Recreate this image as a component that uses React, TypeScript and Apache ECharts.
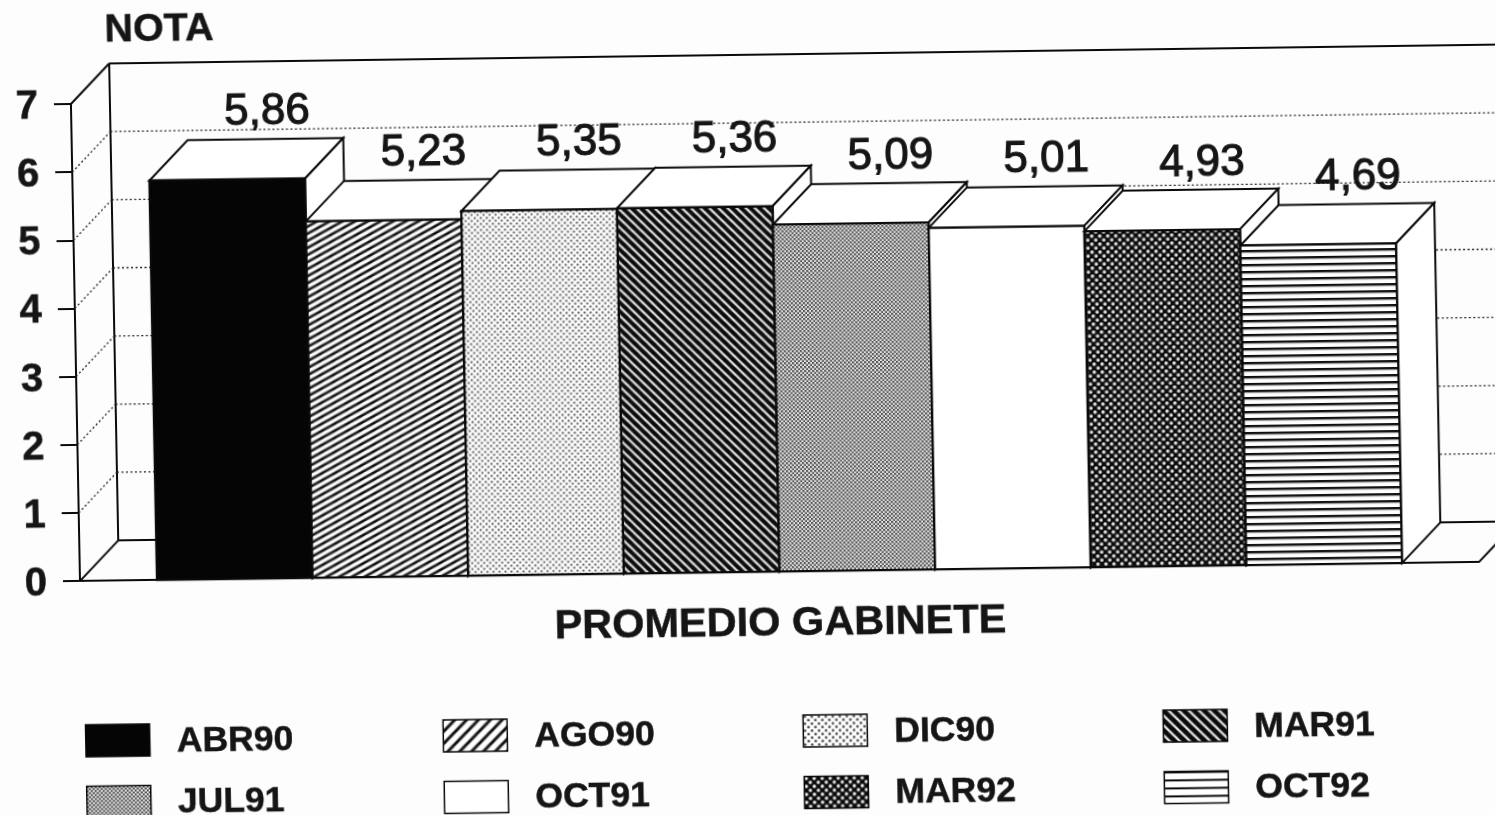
import React, { useEffect, useRef } from "react";
import * as echarts from "echarts";

const categories = ["PROMEDIO GABINETE"];
const seriesNames = ["ABR90", "AGO90", "DIC90", "MAR91", "JUL91", "OCT91", "MAR92", "OCT92"];
const seriesValues = [5.86, 5.23, 5.35, 5.36, 5.09, 5.01, 4.93, 4.69];
const yTicks = [0, 1, 2, 3, 4, 5, 6, 7];
const legendColumns = [
  ["ABR90", "JUL91"],
  ["AGO90", "OCT91"],
  ["DIC90", "MAR92"],
  ["MAR91", "OCT92"],
];
const legendLefts = [82, 439.5, 799.5, 1159.5];

const INK = "#0a0a0a";
const TEXT = "#151515";
const FONT = '"Liberation Sans", Arial, sans-serif';
const DEPTH_X = 39;
const DEPTH_Y = 40;
const CLUSTER = 0.89;

function tile(w: number, h: number, draw: (c: CanvasRenderingContext2D) => void, bg = "#ffffff") {
  const cv = document.createElement("canvas");
  cv.width = w;
  cv.height = h;
  const c = cv.getContext("2d")!;
  c.fillStyle = bg;
  c.fillRect(0, 0, w, h);
  c.fillStyle = INK;
  c.strokeStyle = INK;
  draw(c);
  return { image: cv, repeat: "repeat" };
}
function riseHatch(w: number, h: number, lw: number) {
  return tile(w, h, (c) => {
    c.lineWidth = lw;
    for (let k = -2; k <= 2; k++) {
      c.beginPath();
      c.moveTo(-w, h * (k + 2));
      c.lineTo(2 * w, h * (k - 1));
      c.stroke();
    }
  });
}
function fallHatch(w: number, h: number, lw: number) {
  return tile(w, h, (c) => {
    c.lineWidth = lw;
    for (let k = -2; k <= 2; k++) {
      c.beginPath();
      c.moveTo(-w, h * (k - 1));
      c.lineTo(2 * w, h * (k + 2));
      c.stroke();
    }
  });
}
function dots(p: number, r: number, colour: string, bg: string) {
  return tile(p, p, (c) => {
    c.fillStyle = colour;
    [[p / 4, p / 4], [(3 * p) / 4, (3 * p) / 4]].forEach(([x, y]) => {
      c.beginPath();
      c.arc(x, y, r, 0, Math.PI * 2);
      c.fill();
    });
  }, bg);
}
function stripes(h: number, lw: number) {
  return tile(4, h, (c) => {
    c.fillRect(0, 0, 4, lw);
  });
}

function barFills(): Record<string, any> {
  return {
    ABR90: "#050505",
    AGO90: riseHatch(13, 7, 2.6),
    DIC90: dots(6, 1.05, "#222", "#fff"),
    MAR91: fallHatch(9, 9, 4.4),
    JUL91: dots(4, 1, "#111", "#f0f0f0"),
    OCT91: "#ffffff",
    MAR92: dots(8, 1.7, "#fff", "#0a0a0a"),
    OCT92: stripes(7, 2.4),
  };
}
function legendFills(): Record<string, any> {
  return {
    ABR90: "#050505",
    AGO90: riseHatch(12, 12, 3),
    DIC90: dots(7, 1.2, "#222", "#fff"),
    MAR91: fallHatch(10, 10, 5),
    JUL91: dots(4, 1, "#111", "#f0f0f0"),
    OCT91: "#ffffff",
    MAR92: dots(8, 1.7, "#fff", "#0a0a0a"),
    OCT92: stripes(8, 2),
  };
}

export default function App() {
  const ref = useRef<HTMLDivElement>(null);
  useEffect(() => {
    document.body.style.margin = "0";
    document.body.style.background = "#fdfdfd";
    const chart = echarts.init(ref.current!, null, { renderer: "svg" });
    const fills = barFills();
    const lfills = legendFills();

    const line = (x1: number, y1: number, x2: number, y2: number, dotted: boolean) => ({
      type: "line",
      shape: { x1, y1, x2, y2 },
      style: dotted
        ? { stroke: "#222", lineWidth: 1.3, lineDash: [2, 2.5] }
        : { stroke: INK, lineWidth: 2 },
    });

    const wallSeries = {
      type: "custom",
      name: "walls",
      silent: true,
      z: 1,
      data: yTicks.map((t) => [0, t]),
      encode: { x: 0, y: 1 },
      renderItem: (params: any, api: any) => {
        const sys = params.coordSys;
        const v = api.value(1);
        const y = api.coord([0, v])[1];
        const left = sys.x;
        const right = sys.x + sys.width;
        const solid = v === 0 || v === yTicks[yTicks.length - 1];
        const kids: any[] = [
          line(left, y, left + DEPTH_X, y - DEPTH_Y, !solid),
          line(left + DEPTH_X, y - DEPTH_Y, right + DEPTH_X, y - DEPTH_Y, !solid),
        ];
        if (v === 0) {
          kids.push(line(left + DEPTH_X, y - DEPTH_Y, left + DEPTH_X, sys.y - DEPTH_Y, false));
          kids.push(line(right, y, right + DEPTH_X, y - DEPTH_Y, false));
        }
        return { type: "group", children: kids };
      },
    };

    const barSeries = seriesNames.map((name, i) => ({
      type: "custom",
      name,
      silent: true,
      z: 3,
      data: [[0, seriesValues[i]]],
      encode: { x: 0, y: 1 },
      renderItem: (_p: any, api: any) => {
        const value = api.value(1);
        const [cx, top] = api.coord([0, value]);
        const base = api.coord([0, 0])[1];
        const w = (api.size([1, 0])[0] * CLUSTER) / seriesNames.length;
        const x = cx - (w * seriesNames.length) / 2 + i * w;
        const edge = { stroke: INK, lineWidth: 2, fill: "#fff" };
        return {
          type: "group",
          children: [
            {
              type: "polygon",
              shape: { points: [[x, top], [x + DEPTH_X, top - DEPTH_Y], [x + w + DEPTH_X, top - DEPTH_Y], [x + w, top]] },
              style: edge,
            },
            {
              type: "polygon",
              shape: { points: [[x + w, top], [x + w + DEPTH_X, top - DEPTH_Y], [x + w + DEPTH_X, base - DEPTH_Y], [x + w, base]] },
              style: edge,
            },
            {
              type: "rect",
              shape: { x, y: top, width: w, height: base - top },
              style: { fill: fills[name], stroke: INK, lineWidth: 2.2 },
            },
            {
              type: "text",
              x: x + w / 2 + DEPTH_X + 2,
              y: top - 70,
              style: {
                text: value.toFixed(2).replace(".", ","),
                align: "center",
                verticalAlign: "middle",
                font: `400 44px ${FONT}`,
                fill: TEXT,
                stroke: TEXT,
                lineWidth: 1.1,
              },
            },
          ],
        };
      },
    }));

    const heavy = { textBorderColor: TEXT, textBorderWidth: 0.5 };

    chart.setOption({
      animation: false,
      backgroundColor: "transparent",
      grid: { left: 80, top: 104, width: 1399, height: 477, containLabel: false },
      xAxis: {
        type: "category",
        data: categories,
        axisLine: { lineStyle: { color: INK, width: 2 } },
        axisTick: { alignWithLabel: true, length: 15, lineStyle: { color: INK, width: 2 } },
        axisLabel: { margin: 28, fontFamily: FONT, fontWeight: "bold", fontSize: 41.5, color: TEXT, ...heavy },
      },
      yAxis: {
        type: "value",
        min: 0,
        max: 7,
        interval: 1,
        name: "NOTA",
        nameLocation: "end",
        nameGap: 76,
        nameTextStyle: {
          align: "left",
          verticalAlign: "middle",
          padding: [0, 0, 0, 35],
          fontFamily: FONT,
          fontWeight: "bold",
          fontSize: 39.5,
          color: TEXT,
          ...heavy,
        },
        axisLine: { show: true, onZero: false, lineStyle: { color: INK, width: 2 } },
        axisTick: { show: true, length: 17, lineStyle: { color: INK, width: 2 } },
        splitLine: { show: false },
        axisLabel: {
          margin: 33,
          padding: [10, 0, 0, 0],
          fontFamily: FONT,
          fontWeight: "bold",
          fontSize: 40,
          color: TEXT,
          ...heavy,
        },
      },
      legend: legendColumns.map((col, k) => ({
        orient: "vertical",
        left: legendLefts[k],
        top: 722.5,
        padding: 0,
        itemGap: 25,
        itemWidth: 64,
        itemHeight: 32,
        selectedMode: false,
        icon: "rect",
        textStyle: {
          fontFamily: FONT,
          fontWeight: "bold",
          fontSize: 35.5,
          color: TEXT,
          padding: [8, 0, 0, 22],
          ...heavy,
        },
        data: col.map((name, row) => ({
          name,
          icon: "rect",
          itemStyle: { color: lfills[name], borderColor: INK, borderWidth: 1.5 },
          textStyle: row === 1 ? { padding: [13, 0, 0, 22] } : undefined,
        })),
      })),
      series: [wallSeries, ...barSeries],
    });
    return () => chart.dispose();
  }, []);

  return (
    <div style={{ position: "fixed", left: 0, top: 0, width: 1495, height: 815, overflow: "hidden", background: "#fdfdfd" }}>
      <div
        ref={ref}
        style={{
          position: "absolute",
          left: 0,
          top: 0,
          width: 1560,
          height: 880,
          transformOrigin: "80px 581px",
          transform: "matrix(1, -0.0136, 0.019, 1, 0, 0)",
          filter: "blur(0.4px)",
        }}
      />
    </div>
  );
}
